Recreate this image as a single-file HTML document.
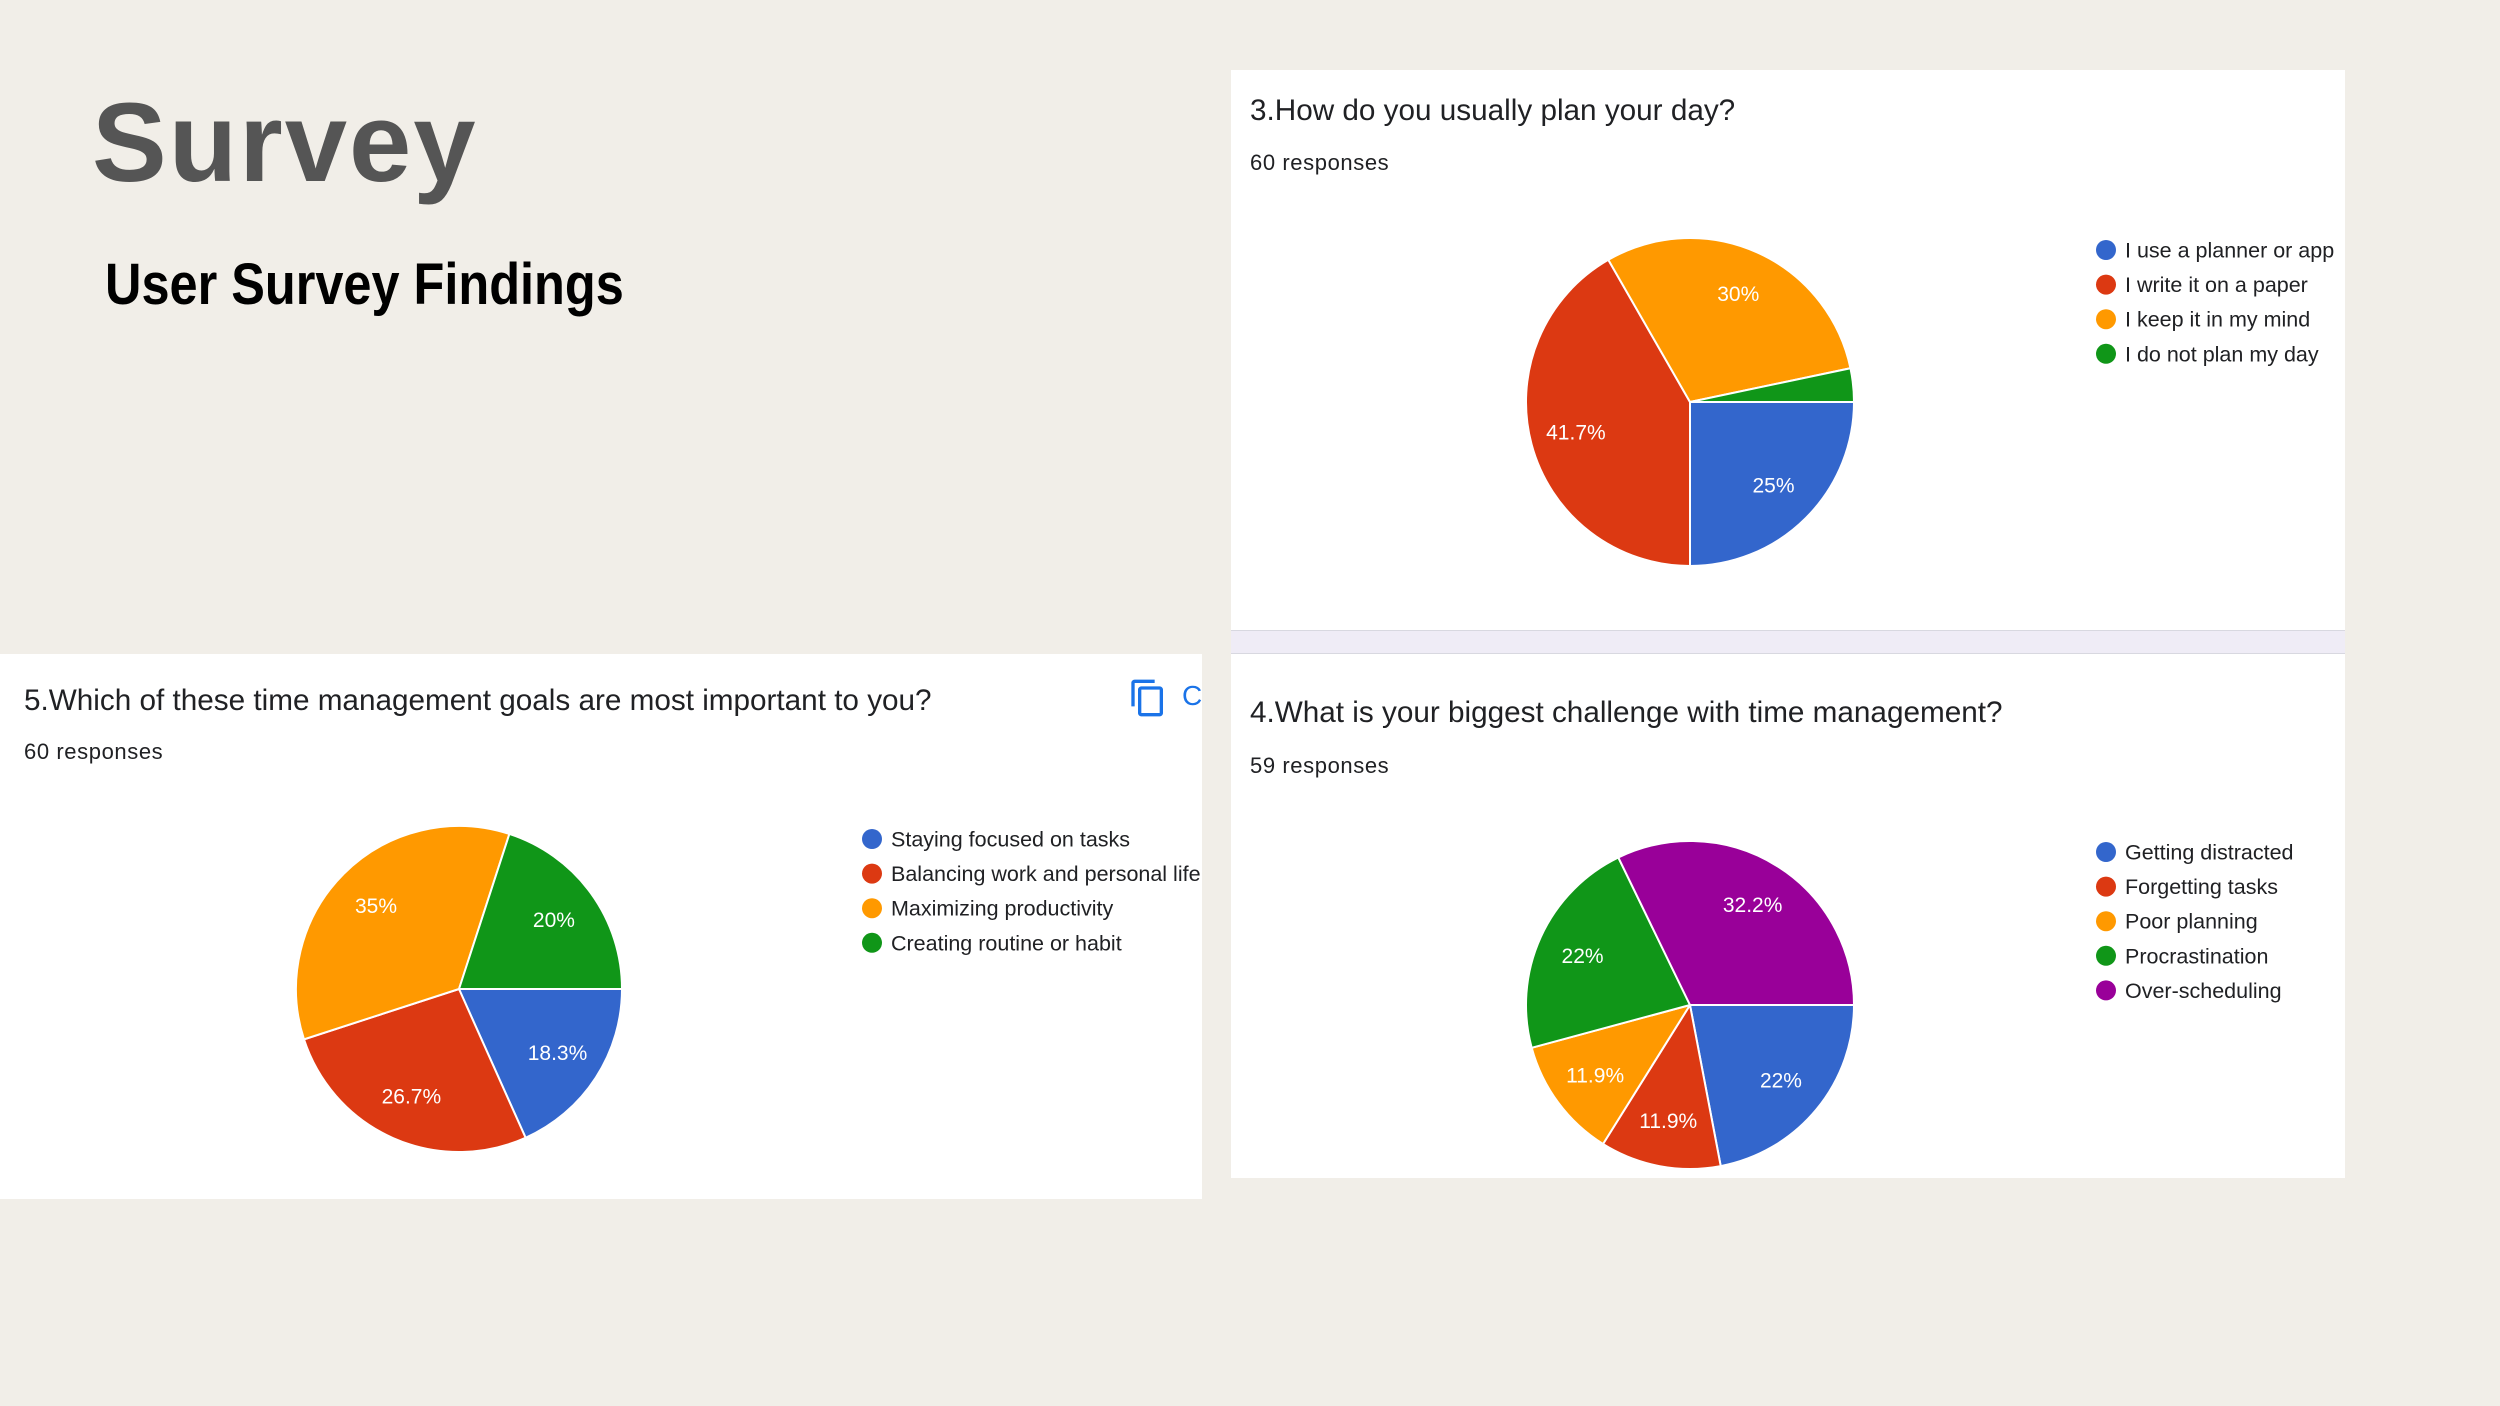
<!DOCTYPE html>
<html><head><meta charset="utf-8">
<style>
body{margin:0;width:2500px;height:1406px;background:#f1eee8;position:relative;overflow:hidden;font-family:"Liberation Sans",Arial,sans-serif;color:#202124}
.abs{position:absolute}
.card{position:absolute;background:#fff;overflow:hidden}
.qt{position:absolute;font-size:29.7px;white-space:nowrap;color:#202124}
.resp{position:absolute;font-size:22px;letter-spacing:0.6px;white-space:nowrap;color:#202124}
svg text{font-family:"Liberation Sans",Arial,sans-serif}
</style></head><body>
<div class="abs" style="left:92px;top:78px;font-size:112px;font-weight:bold;color:#555;letter-spacing:2px">Survey</div>
<div class="abs" style="left:105px;top:251px;font-size:58px;font-weight:bold;color:#000;transform:scaleX(0.87);transform-origin:left">User Survey Findings</div>

<div class="card" style="left:1231px;top:70px;width:1114px;height:560px">
  <div class="qt" style="left:19px;top:24px">3.How do you usually plan your day?</div>
  <div class="resp" style="left:19px;top:80px">60 responses</div>
</div>
<div class="abs" style="left:1231px;top:630px;width:1114px;height:22px;background:#efecf6;border-top:1px solid #d8d8e0;border-bottom:1px solid #d8d8e0"></div>
<div class="card" style="left:1231px;top:654px;width:1114px;height:524px">
  <div class="qt" style="left:19px;top:42px">4.What is your biggest challenge with time management?</div>
  <div class="resp" style="left:19px;top:99px">59 responses</div>
</div>
<div class="card" style="left:0;top:654px;width:1202px;height:545px">
  <div class="qt" style="left:24px;top:30px">5.Which of these time management goals are most important to you?</div>
  <div class="resp" style="left:24px;top:85px">60 responses</div>
  <svg class="abs" style="left:1128px;top:24px" width="40" height="40" viewBox="0 0 24 24"><path d="M16 1H4c-1.1 0-2 .9-2 2v14h2V3h12V1zm3 4H8c-1.1 0-2 .9-2 2v14c0 1.1.9 2 2 2h11c1.1 0 2-.9 2-2V7c0-1.1-.9-2-2-2zm0 16H8V7h11v14z" fill="#1a73e8"/></svg>
  <div class="abs" style="left:1182px;top:26px;font-size:28px;color:#1a73e8">C</div>
</div>

<svg id="charts" class="abs" style="left:0;top:0" width="2500" height="1406"></svg>

<script>
const q3Labels=["I use a planner or app","I write it on a paper","I keep it in my mind","I do not plan my day"];
const q3Values=[25,41.7,30,3.3];
const q3Printed=["25%","41.7%","30%",""];
const q4Labels=["Getting distracted","Forgetting tasks","Poor planning","Procrastination","Over-scheduling"];
const q4Values=[22,11.9,11.9,22,32.2];
const q4Printed=["22%","11.9%","11.9%","22%","32.2%"];
const q5Labels=["Staying focused on tasks","Balancing work and personal life","Maximizing productivity","Creating routine or habit"];
const q5Values=[18.3,26.7,35,20];
const q5Printed=["18.3%","26.7%","35%","20%"];
const colors=["#3366cc","#dc3912","#ff9900","#109618","#990099"];

const NS="http://www.w3.org/2000/svg";
const svg=document.getElementById('charts');
function mk(tag,attrs,parent){const e=document.createElementNS(NS,tag);for(const k in attrs)e.setAttribute(k,attrs[k]);parent.appendChild(e);return e;}

function pie(id,cx,cy,r,values,printed,labels,lx,ly){
  const g=mk('g',{},svg);
  
  
  const total=values.reduce((a,b)=>a+b,0);
  let a=Math.PI/2;
  values.forEach((v,i)=>{
    const s=a, e=a+v/total*2*Math.PI; a=e;
    const x1=cx+r*Math.sin(s), y1=cy-r*Math.cos(s), x2=cx+r*Math.sin(e), y2=cy-r*Math.cos(e);
    const large=(e-s)>Math.PI?1:0;
    const p=mk('path',{d:`M${cx},${cy}L${x1},${y1}A${r},${r} 0 ${large} 1 ${x2},${y2}Z`,fill:colors[i],stroke:'#fff','stroke-width':2},g);
    
    
    if(printed[i]){
      const m=(s+e)/2, lr=r*0.72;
      const t=mk('text',{x:cx+lr*Math.sin(m),y:cy-lr*Math.cos(m)+7,'text-anchor':'middle','font-size':21,fill:'#fff'},g);
      t.textContent=printed[i];
      
      
    }
  });
  labels.forEach((l,i)=>{
    const lg=mk('g',{},svg);
    
    
    const y=ly+i*34.6;
    mk('circle',{cx:lx,cy:y,r:10,fill:colors[i]},lg);
    const t=mk('text',{x:lx+19,y:y+7.5,'font-size':21.5,fill:'#202124'},lg);
    t.textContent=l;
  });
}
pie('q3',1690,402,164,q3Values,q3Printed,q3Labels,2106,250);
pie('q4',1690,1005,164,q4Values,q4Printed,q4Labels,2106,852);
pie('q5',459,989,163,q5Values,q5Printed,q5Labels,872,839);
const cover=mk('rect',{x:1202,y:800,width:29,height:160,fill:'#f1eee8'},svg);


</script>
</body></html>
